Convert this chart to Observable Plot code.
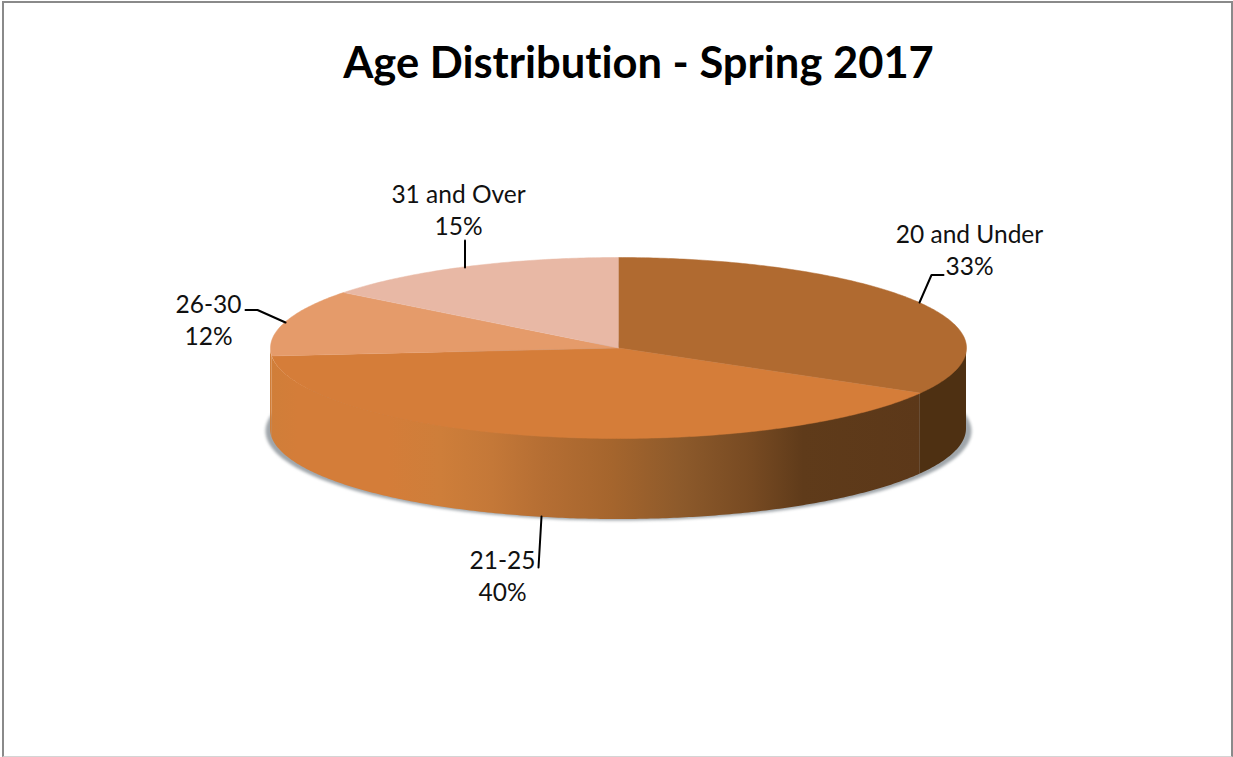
<!DOCTYPE html>
<html>
<head>
<meta charset="utf-8">
<script src="https://cdn.jsdelivr.net/npm/d3@7"></script>
<script src="https://cdn.jsdelivr.net/npm/@observablehq/plot@0.6"></script>
<style>
html,body{margin:0;padding:0;background:#fff;overflow:hidden}
#frame{position:absolute;left:2px;top:1px;width:1231px;height:756px;box-sizing:border-box;
  border-left:2px solid #8a8a8a;border-top:2px solid #8a8a8a;border-right:2px solid #8a8a8a;border-bottom:1px solid #d4d4d4}
#title{position:absolute;left:0;top:0;width:1277px;height:110px;padding-top:36px;box-sizing:border-box;text-align:center;
  font:700 43.5px/50px Lato,sans-serif;color:#000;font-variant-ligatures:none}
#chart{position:absolute;left:0;top:110px}
svg{display:block}
</style>
</head>
<body>
<div id="frame"></div>
<div id="title">Age Distribution - Spring 2017</div>
<div id="chart"></div>
<script>
const names = ["20 and Under", "21-25", "26-30", "31 and Over"];
const shares = [33.3, 40.3, 11.9, 14.5];
const topColors = ["#b06a30", "#d57d39", "#e59b6a", "#e8b8a5"];

// side wall gradients: [position across the wall, colour]
const sideStops2125 = [[0, "#d07e39"], [0.04, "#d47d39"], [0.18, "#d47d39"], [0.26, "#ce7e3a"], [0.34, "#c47838"], [0.42, "#b56e33"], [0.525, "#a5652d"], [0.63, "#8d5a2b"], [0.74, "#774a22"], [0.82, "#5f3b1a"], [1, "#5c3819"]];
const sideStops20 = [[0, "#4e3012"], [1, "#4e3012"]];

// pie layout
const W = 1233, H = 647, offsetY = 110;
const cx = 618, cy = 347.5 - offsetY, rx = 348, ry = 90.5, depth = 81;

const labelX = [969, 502, 208, 458];
const labelY = [248, 574, 318, 208].map(y => y - offsetY);
const leaderPts = [
  [[943, 274.5], [931, 274.5], [919, 302]],
  [[541, 516], [538, 567]],
  [[245, 309.5], [257, 309.5], [285, 322]],
  [[464.5, 240], [464.5, 267]]
];

const pt = t => ({x: cx + rx * Math.sin(t), y: cy - ry * Math.cos(t)});
const total = d3.sum(shares);
let acc = 0;
const slices = names.map((name, i) => {
  const a0 = acc / total * 2 * Math.PI;
  acc += shares[i];
  return {name, a0, a1: acc / total * 2 * Math.PI, share: shares[i]};
});
const arc = (a0, a1) => {
  const n = Math.max(2, Math.ceil((a1 - a0) * 90));
  return d3.range(n + 1).map(k => pt(a0 + (a1 - a0) * k / n));
};
const topRows = slices.flatMap(s => [{x: cx, y: cy, name: s.name}, ...arc(s.a0, s.a1).map(p => ({...p, name: s.name}))]);
const wall = (a0, a1) => arc(a0, a1).map(p => ({...p, y2: p.y + depth}));
const wall20 = wall(Math.PI / 2, slices[0].a1);
const wall2125 = wall(slices[1].a0, slices[1].a1);
const wallEnd = wall(slices[1].a1, 3 * Math.PI / 2);
const shadow = d3.range(0, 361, 2).map(d => {
  const t = d * Math.PI / 180;
  return {x: cx + (rx + 5) * Math.sin(t), y: cy + 83 - (ry - 1) * Math.cos(t)};
});
const labels = slices.map((s, i) => ({text: `${s.name}\n${Math.round(s.share)}%`, x: labelX[i], y: labelY[i]}));
const leaders = leaderPts.flatMap((pts, i) => pts.map(([x, y]) => ({x, y: y - offsetY, name: names[i]})));

const blur = r => (index, scales, values, dims, ctx, next) => {
  const g = next(index, scales, values, dims, ctx);
  g.style.filter = `blur(${r}px)`;
  return g;
};
const defs = () => {
  const svg = d3.create("svg:defs");
  for (const [id, stops] of [["side2125", sideStops2125], ["side20", sideStops20]]) {
    const g = svg.append("linearGradient").attr("id", id).attr("x1", 0).attr("x2", 1).attr("y1", 0).attr("y2", 0);
    for (const [o, c] of stops) g.append("stop").attr("offset", o).attr("stop-color", c);
  }
  return svg.node();
};

const chart = Plot.plot({
  width: W, height: H, margin: 0,
  x: {domain: [0, W], range: [0, W], axis: null},
  y: {domain: [0, H], range: [0, H], axis: null},
  color: {domain: names, range: topColors},
  style: {background: "transparent", overflow: "visible"},
  marks: [
    defs,
    Plot.line(shadow, {x: "x", y: "y", fill: "#a0a6ab", stroke: "none", render: blur(1.5)}),
    Plot.area(wall20, {x1: "x", y1: "y", y2: "y2", fill: "url(#side20)"}),
    Plot.area(wall2125, {x1: "x", y1: "y", y2: "y2", fill: "url(#side2125)"}),
    Plot.area(wallEnd, {x1: "x", y1: "y", y2: "y2", fill: "#d07e39"}),
    Plot.line(topRows, {x: "x", y: "y", z: "name", fill: "name", stroke: "name", strokeWidth: 0.5}),
    Plot.line(leaders, {x: "x", y: "y", z: "name", stroke: "#000", strokeWidth: 2, strokeLinejoin: "miter"}),
    Plot.text(labels, {x: "x", y: "y", text: "text", fontSize: 24.5, lineHeight: 1.33, fontFamily: "Lato", fill: "#111", textAnchor: "middle"})
  ]
});
document.getElementById("chart").append(chart);
</script>
</body>
</html>
